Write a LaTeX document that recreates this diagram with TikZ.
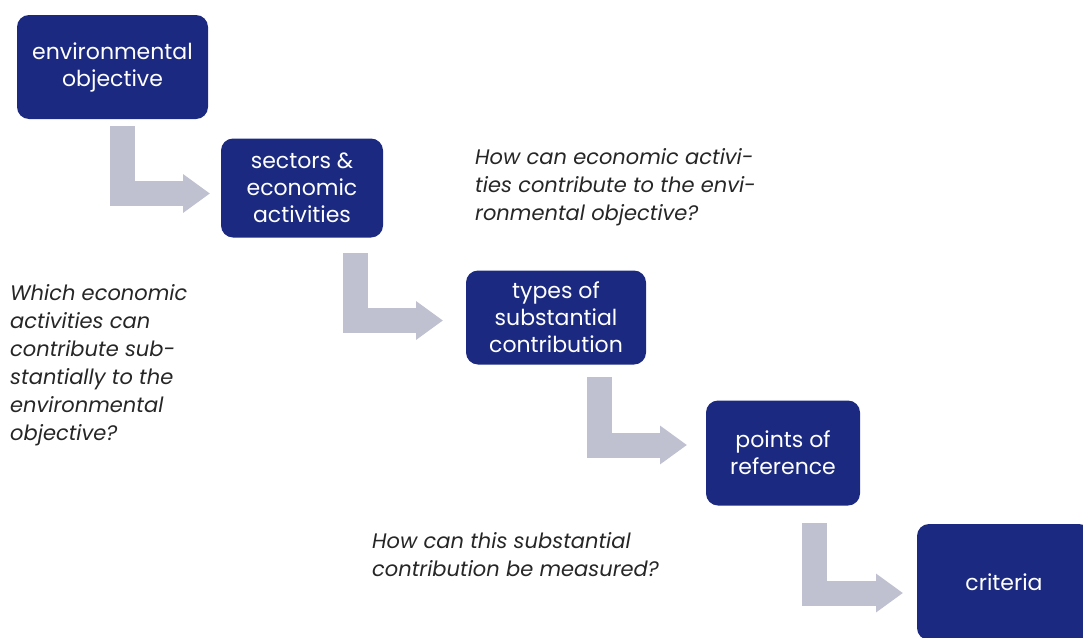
\documentclass[tikz,border=0pt]{standalone}
\usepackage{fontspec}
\setmainfont{Poppins}
\usetikzlibrary{arrows.meta}
\definecolor{navy}{RGB}{27,42,128}
\definecolor{stairgray}{RGB}{191,192,208}
\begin{document}
\begin{tikzpicture}[x=1pt, y=-1pt,
	box/.style={fill=navy, text=white, rounded corners=12pt, align=center, inner sep=0pt,
		font=\fontsize{22}{27}\selectfont},
	question/.style={anchor=north west, align=left, inner sep=0pt, text=black!85,
		font=\fontsize{21}{28}\selectfont\itshape},
	stair/.style={draw=stairgray, line width=25pt, -{Triangle[width=37pt, length=27pt]}}]
	\useasboundingbox (0,0) rectangle (1083,637);
	\node[box, minimum width=191pt, minimum height=104pt] (objective) at (112.5,67) {environmental\\objective};
	\node[box, minimum width=162pt, minimum height=99pt] (sectors) at (302,188) {sectors \&\\economic\\activities};
	\node[box, minimum width=180pt, minimum height=94pt] (types) at (556,317.5) {types of\\substantial\\contribution};
	\node[box, minimum width=154pt, minimum height=105pt] (points) at (783,453) {points of\\reference};
	\node[box, minimum width=174pt, minimum height=116pt] (criteria) at (1004,582) {criteria};
	\coordinate (s1) at (122.5,126);   \coordinate (e1) at (210,193.5);
	\coordinate (s2) at (355.5,253);   \coordinate (e2) at (443,320.5);
	\coordinate (s3) at (599,377);     \coordinate (e3) at (687,445);
	\coordinate (s4) at (814.5,523);   \coordinate (e4) at (903,593);
	\foreach \i in {1,...,4}{
		\draw[stair] (s\i) |- (e\i);
	}
	\node[question] (howact) at (475,148) {How can economic activi-\\ties contribute to the envi-\\ronmental objective?};
	\node[question] (which) at (10,284) {Which economic\\activities can\\contribute sub-\\stantially to the\\environmental\\objective?};
	\node[question] (howmeas) at (372,532) {How can this substantial\\contribution be measured?};
\end{tikzpicture}
\end{document}
